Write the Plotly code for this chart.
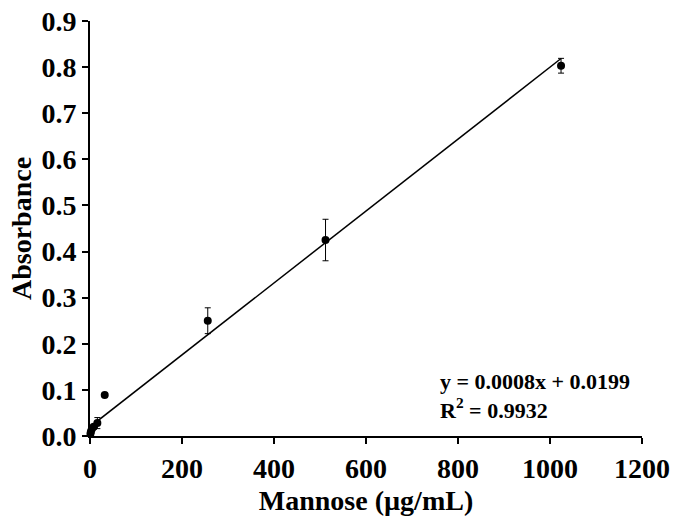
import plotly.graph_objects as go

# Data
conc = [1, 2, 4, 8, 16, 32, 256, 512, 1024]
absorb = [0.005, 0.010, 0.015, 0.020, 0.028, 0.089, 0.250, 0.425, 0.803]
err = [0.002, 0.003, 0.004, 0.005, 0.012, 0.0, 0.028, 0.045, 0.016]

slope = 0.00078
intercept = 0.0199
fit_x = [0, 1024]
fit_y = [slope * v + intercept for v in fit_x]

x_ticks = [0, 200, 400, 600, 800, 1000, 1200]
y_ticks = [0.0, 0.1, 0.2, 0.3, 0.4, 0.5, 0.6, 0.7, 0.8, 0.9]

font_family = "Liberation Serif"

fig = go.Figure()
fig.add_trace(go.Scatter(
    x=fit_x, y=fit_y, mode="lines",
    line=dict(color="black", width=1.5),
    showlegend=False, hoverinfo="skip", cliponaxis=False))
fig.add_trace(go.Scatter(
    x=conc, y=absorb, mode="markers",
    marker=dict(color="black", size=8),
    error_y=dict(type="data", array=err, color="black", thickness=1, width=3),
    showlegend=False, cliponaxis=False))

fig.add_annotation(
    x=0.631, y=0.167, xref="paper", yref="paper", xanchor="left", yanchor="top",
    text="<b>y = 0.0008x + 0.0199<br>R<sup>2</sup> = 0.9932</b>",
    showarrow=False, align="left",
    font=dict(family=font_family, size=22, color="black"))

fig.update_layout(
    width=675, height=526,
    margin=dict(l=90, r=33, t=21, b=90),
    paper_bgcolor="white", plot_bgcolor="white",
    font=dict(family=font_family, color="black"),
)
fig.update_xaxes(
    range=[0, 1200], tickvals=x_ticks, ticktext=[f"<b>{v}</b>" for v in x_ticks],
    showline=True, linecolor="black", linewidth=2,
    ticks="outside", tickcolor="black", tickwidth=2, ticklen=6,
    showgrid=False, zeroline=False, automargin=False,
    tickfont=dict(family=font_family, size=28, color="black"),
    title=dict(text="<b>Mannose (µg/mL)</b>", font=dict(family=font_family, size=28, color="black"), standoff=8),
)
fig.update_yaxes(
    range=[0, 0.9], tickvals=y_ticks, ticktext=[f"<b>{v:.1f}</b>" for v in y_ticks],
    showline=True, linecolor="black", linewidth=2,
    ticks="outside", tickcolor="black", tickwidth=2, ticklen=6,
    showgrid=False, zeroline=False, automargin=False,
    tickfont=dict(family=font_family, size=28, color="black"),
    title=dict(text="<b>Absorbance</b>", font=dict(family=font_family, size=28, color="black"), standoff=2),
)

fig.write_html("out.html")
